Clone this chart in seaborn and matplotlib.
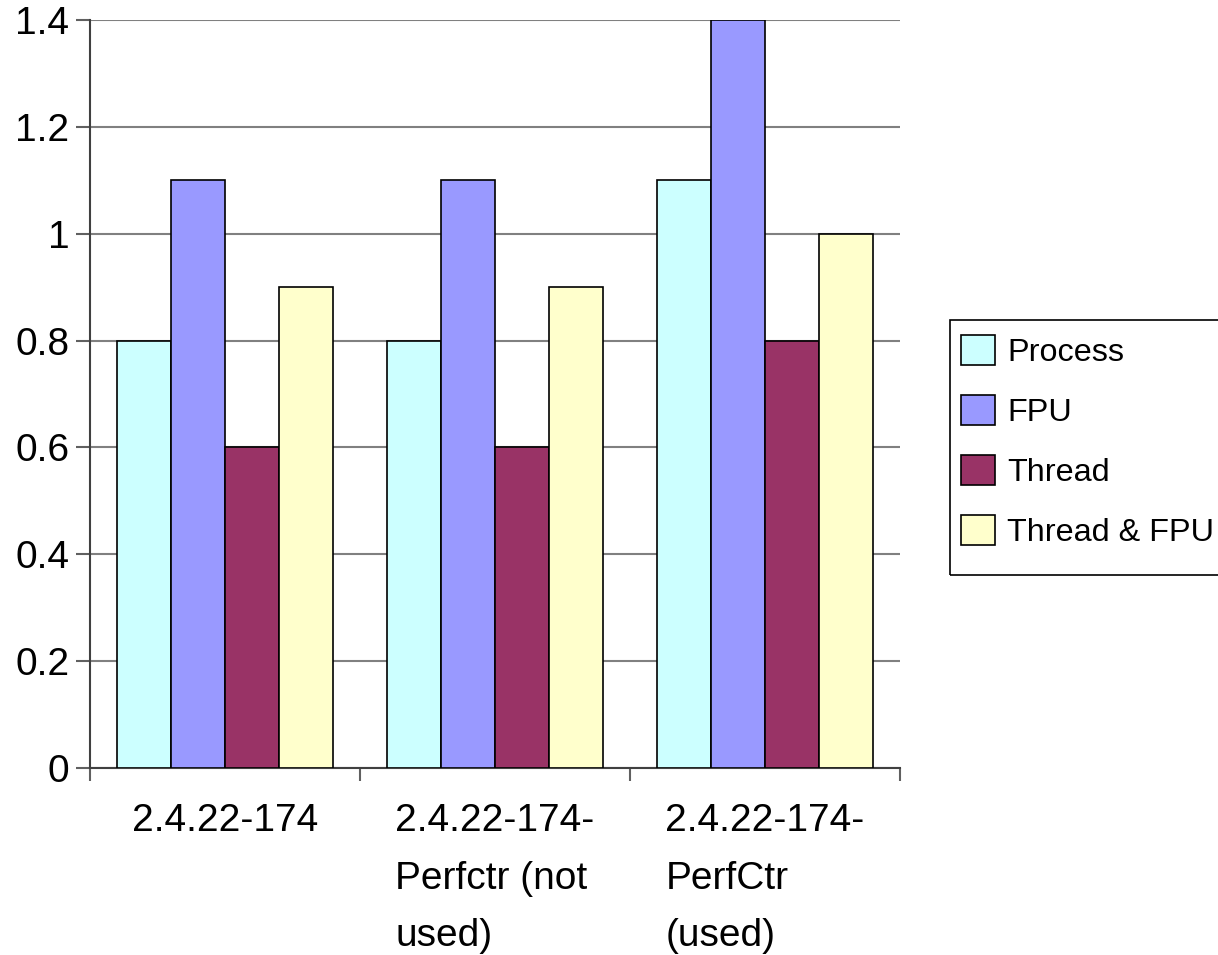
import matplotlib
matplotlib.use("Agg")
import matplotlib.pyplot as plt
import matplotlib.patches as mpatches
import seaborn as sns
import pandas as pd
from matplotlib.ticker import FixedLocator

categories = ["2.4.22-174", "2.4.22-174-\nPerfctr (not\nused)", "2.4.22-174-\nPerfCtr\n(used)"]
series = ["Process", "FPU", "Thread", "Thread & FPU"]
process = [0.8, 0.8, 1.1]
fpu = [1.1, 1.1, 1.4]
thread = [0.6, 0.6, 0.8]
thread_fpu = [0.9, 0.9, 1.0]
colors = ["#CCFFFF", "#9999FF", "#993366", "#FFFFCC"]
yticks = [0, 0.2, 0.4, 0.6, 0.8, 1.0, 1.2, 1.4]
ytick_labels = ["0", "0.2", "0.4", "0.6", "0.8", "1", "1.2", "1.4"]

rows = []
for name, vals in zip(series, [process, fpu, thread, thread_fpu]):
    for c, v in zip(categories, vals):
        rows.append({"cat": c, "series": name, "value": v})
df = pd.DataFrame(rows)

sns.set_theme(style="white")
plt.rcParams["font.family"] = ["Liberation Sans", "DejaVu Sans"]
plt.rcParams["text.color"] = "black"
plt.rcParams["xtick.color"] = "black"
plt.rcParams["ytick.color"] = "black"

W, H = 1218, 955
fig = plt.figure(figsize=(W / 100, H / 100), dpi=100)
ax = fig.add_axes([90 / W, 1 - 768 / H, (900 - 90) / W, (768 - 20) / H])

sns.barplot(data=df, x="cat", y="value", hue="series", order=categories,
            hue_order=series, palette=colors, width=0.8, edgecolor="black",
            linewidth=1.2, saturation=1, ax=ax, legend=True, zorder=3)

ax.set_xlim(-0.5, 2.5)
ax.set_ylim(0, 1.4)
ax.set_yticks(yticks)
ax.set_yticklabels(ytick_labels, fontsize=28, color="black")
ax.yaxis.grid(True, color="#808080", linewidth=1.5, zorder=0)
ax.set_axisbelow(True)
ax.set_xlabel("")
ax.set_ylabel("")

for s in ["top", "right"]:
    ax.spines[s].set_visible(False)
for s in ["left", "bottom"]:
    ax.spines[s].set_color("#404040")
    ax.spines[s].set_linewidth(1.5)

ax.tick_params(axis="y", which="major", direction="out", length=10, width=1.5,
               color="#606060", pad=5, left=True, labelsize=28, labelcolor="black")
ax.xaxis.set_minor_locator(FixedLocator([-0.5, 0.5, 1.5, 2.5]))
ax.tick_params(axis="x", which="minor", direction="out", length=9, width=1.5,
               color="#606060", bottom=True)
ax.tick_params(axis="x", which="major", length=0, pad=25, labelsize=28,
               labelcolor="black")
for lbl in ax.get_xticklabels():
    lbl.set_multialignment("left")
    lbl.set_linespacing(1.78)
    lbl.set_verticalalignment("top")

handles, labels = ax.get_legend_handles_labels()
ax.get_legend().remove()
leg = fig.legend(handles, labels, loc="upper left",
                 bbox_to_anchor=(961 / W, 1 - 335 / H), fontsize=23.3,
                 frameon=False, handlelength=1.05, handleheight=1.05,
                 handletextpad=0.37, labelspacing=0.83, borderpad=0,
                 borderaxespad=0)
for t in leg.get_texts():
    t.set_color("black")
for h in leg.legend_handles:
    h.set_edgecolor("black")
    h.set_linewidth(1.2)

fig.patches.append(mpatches.Rectangle((950 / W, 1 - 575 / H), 300 / W, 255 / H,
                                      transform=fig.transFigure, fill=False,
                                      edgecolor="black", linewidth=1.2))

fig.savefig("out.png", dpi=100)
